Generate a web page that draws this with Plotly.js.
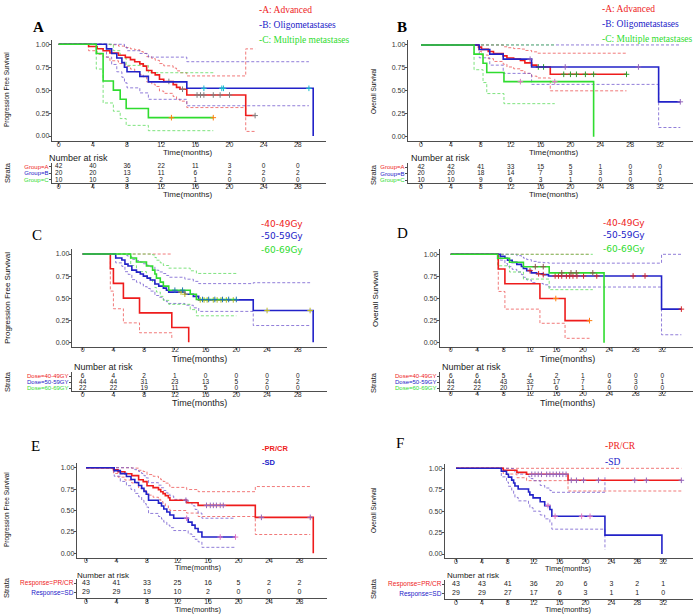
<!DOCTYPE html>
<html><head><meta charset="utf-8">
<script src="https://cdn.plot.ly/plotly-3.0.1.min.js"></script>
<style>html,body{margin:0;padding:0;background:#fff;}#chart{width:700px;height:614px;}</style>
</head><body><div id="chart"></div>
<script>
// ---------------- DATA ----------------
// Risk table times and counts
const riskTimes28 = [0,4,8,12,16,20,24,28];
const riskTimes32 = [0,4,8,12,16,20,24,28,32];
const riskA_grpA = [42,40,36,22,11,3,0,0];
const riskA_grpB = [20,20,13,11,6,2,2,2];
const riskA_grpC = [10,10,3,2,1,0,0,0];
const riskB_grpA = [42,42,41,33,15,5,1,0,0];
const riskB_grpB = [20,20,18,14,7,3,3,3,1];
const riskB_grpC = [10,10,9,6,3,1,0,0,0];
const riskC_40 = [6,4,2,1,0,0,0,0];
const riskC_50 = [44,44,31,23,13,5,2,2];
const riskC_60 = [22,22,19,11,5,0,0,0];
const riskD_40 = [6,6,5,4,2,1,0,0,0];
const riskD_50 = [44,44,43,32,17,7,4,3,1];
const riskD_60 = [22,22,20,17,6,1,0,0,0];
const riskE_pr = [43,41,33,25,16,5,2,2];
const riskE_sd = [29,29,19,10,2,0,0,0];
const riskF_pr = [43,43,41,36,20,6,3,2,1];
const riskF_sd = [29,29,27,17,6,3,1,1,0];

const groupLabels = ['Group=A','Group=B','Group=C'];
const doseLabels = ['Dose=40-49GY','Dose=50-59GY','Dose=60-69GY'];
const respLabels = ['Response=PR/CR','Response=SD'];
const groupLegend = ['-A: Advanced','-B: Oligometastases','-C: Multiple metastases'];
const doseLegend = ['-40-49Gy','-50-59Gy','-60-69Gy'];
const respLegend = ['-PR/CR','-SD'];
const yTickVals = [0,0.25,0.5,0.75,1];
const yTickText = ['0.00','0.25','0.50','0.75','1.00'];

// Panel A: PFS by group
const A_adv_t = [0,3.5,4.5,5.2,6.0,7.0,7.8,8.4,8.9,9.5,9.9,10.3,10.9,11.3,11.8,12.3,13.4,13.8,14.2,15.0,21.9];
const A_adv_s = [1,0.976,0.952,0.929,0.905,0.881,0.857,0.833,0.81,0.786,0.762,0.714,0.69,0.667,0.619,0.595,0.56,0.53,0.51,0.447,0.223];
const A_adv_up = [1,1,1,1,0.995,0.98,0.965,0.95,0.94,0.92,0.9,0.865,0.845,0.825,0.79,0.765,0.74,0.71,0.69,0.655,0.95];
const A_adv_lo = [1,0.93,0.89,0.86,0.82,0.79,0.76,0.73,0.7,0.67,0.645,0.59,0.565,0.54,0.49,0.465,0.43,0.4,0.38,0.31,0.05];
const A_adv_cens = [12.9,14.5,16.2,16.6,17.0,18.1,18.9,20.0,23.0];
const A_adv_end = 23.0;
const A_oli_t = [0,5.6,6.2,6.8,7.4,7.7,8.0,9.5,10.5,15.0,29.8];
const A_oli_s = [1,0.95,0.9,0.85,0.8,0.75,0.7,0.65,0.59,0.52,0];
const A_oli_up = [1,1,1,1,1,0.97,0.93,0.9,0.86,0.81,null];
const A_oli_lo = [1,0.86,0.78,0.7,0.64,0.58,0.525,0.47,0.4,0.33,null];
const A_oli_cens = [17.0,19.1,19.3,29.3];
const A_oli_end = 29.8;
const A_mul_t = [0,4.4,5.2,6.4,7.2,7.9,10.5];
const A_mul_s = [1,0.9,0.6,0.5,0.4,0.3,0.2];
const A_mul_up = [1,1,1,0.93,0.85,0.77,0.69];
const A_mul_lo = [1,0.73,0.36,0.27,0.19,0.116,0.058];
const A_mul_cens = [13.2,18.1];
const A_mul_end = 18.1;

// Panel B: OS by group
const B_adv_t = [0,7.7,8.1,9.0,9.7,11.0,11.5,12.4,13.3,13.9,14.8,15.5,17.3];
const B_adv_s = [1,0.976,0.952,0.929,0.905,0.881,0.857,0.845,0.83,0.805,0.78,0.76,0.68];
const B_adv_up = [1,1,1,1,1,0.98,0.97,0.96,0.955,0.94,0.925,0.91,0.91];
const B_adv_lo = [1,0.93,0.89,0.85,0.82,0.79,0.76,0.74,0.72,0.69,0.66,0.64,0.5];
const B_adv_cens = [15.7,16.4,19.1,20.0,20.8,22.0,23.1,27.5];
const B_adv_end = 27.5;
const B_oli_t = [0,7.8,9.2,11.0,14.8,31.8];
const B_oli_s = [1,0.95,0.9,0.845,0.76,0.38];
const B_oli_up = [1,1,1,1,1,1];
const B_oli_lo = [1,0.86,0.78,0.69,0.57,0.1];
const B_oli_cens = [14.6,19.3,29.1,34.7];
const B_oli_end = 34.7;
const B_mul_t = [0,7.1,8.3,8.8,11.1,23.1];
const B_mul_s = [1,0.9,0.8,0.7,0.6,0];
const B_mul_up = [1,1,1,1,1,null];
const B_mul_lo = [1,0.73,0.59,0.47,0.36,null];
const B_mul_cens = [13.3,17.9];
const B_mul_end = 23.1;

// Panel C: PFS by dose
const C_40_t = [0,3.6,4.0,5.3,7.4,11.6,13.8];
const C_40_s = [1,0.833,0.667,0.5,0.333,0.167,0];
const C_40_up = [1,1,1,1,1,1,null];
const C_40_lo = [1,0.58,0.38,0.22,0.108,0.028,null];
const C_40_cens = [];
const C_40_end = 13.8;
const C_50_t = [0,4.3,5.1,5.5,5.9,6.4,7.0,7.5,7.9,8.4,8.8,9.4,9.9,10.5,10.9,11.2,13.3,14.4,15.1,22.2,30.0];
const C_50_s = [1,0.955,0.932,0.886,0.864,0.818,0.795,0.773,0.75,0.727,0.705,0.66,0.636,0.614,0.59,0.568,0.545,0.52,0.48,0.36,0];
const C_50_up = [1,1,1,0.985,0.97,0.94,0.925,0.908,0.89,0.872,0.855,0.817,0.797,0.779,0.757,0.737,0.715,0.69,0.665,0.675,null];
const C_50_lo = [1,0.9,0.86,0.8,0.77,0.71,0.68,0.66,0.63,0.61,0.58,0.53,0.51,0.48,0.46,0.44,0.42,0.39,0.35,0.19,null];
const C_50_cens = [12.8,13.3,15.3,15.8,16.2,17.0,17.5,18.0,18.7,19.6,24.0,29.6];
const C_50_end = 30.0;
const C_60_t = [0,6.25,7.0,8.3,9.1,9.4,9.6,10.1,10.5,11.2,14.0,14.8];
const C_60_s = [1,0.955,0.909,0.864,0.818,0.773,0.727,0.682,0.636,0.59,0.545,0.485];
const C_60_up = [1,1,1,1,0.99,0.96,0.93,0.9,0.87,0.84,0.81,0.78];
const C_60_lo = [1,0.87,0.8,0.73,0.68,0.62,0.57,0.52,0.475,0.43,0.37,0.3];
const C_60_cens = [12.0,13.0,15.6,16.4,17.2,18.2,19.0,20.0];
const C_60_end = 20.0;

// Panel D: OS by dose
const D_40_t = [0,7.2,8.2,13.5,17.3];
const D_40_s = [1,0.833,0.667,0.5,0.25];
const D_40_up = [1,1,1,1,1];
const D_40_lo = [1,0.58,0.38,0.22,0.05];
const D_40_cens = [15.9,21.0];
const D_40_end = 21.0;
const D_50_t = [0,7.5,8.2,8.6,9.3,10.0,10.7,11.0,11.5,12.2,13.0,14.0,14.8,31.9];
const D_50_s = [1,0.977,0.955,0.932,0.909,0.886,0.862,0.84,0.815,0.79,0.78,0.77,0.755,0.38];
const D_50_up = [1,1,1,1,1,0.985,0.97,0.957,0.94,0.92,0.91,0.905,0.9,1];
const D_50_lo = [1,0.934,0.896,0.86,0.83,0.8,0.77,0.74,0.71,0.68,0.67,0.655,0.63,0.09];
const D_50_cens = [12.0,13.3,14.0,15.8,16.3,16.8,17.5,18.0,18.5,19.1,20.1,22.1,27.6,29.4,34.9];
const D_50_end = 34.9;
const D_60_t = [0,7.1,8.9,11.0,14.9,23.2];
const D_60_s = [1,0.955,0.91,0.86,0.79,0];
const D_60_up = [1,1,1,1,1,null];
const D_60_lo = [1,0.87,0.8,0.72,0.6,null];
const D_60_cens = [12.8,14.0,16.8,18.2,19.0,21.5];
const D_60_end = 23.2;

// Panel E: PFS by response
const E_pr_t = [0,3.6,4.2,5.1,6.0,6.9,7.5,8.0,8.8,9.5,9.8,10.1,10.4,10.8,11.0,13.2,14.7,22.2,29.8];
const E_pr_s = [1,0.977,0.953,0.93,0.907,0.86,0.837,0.79,0.767,0.744,0.72,0.697,0.674,0.65,0.62,0.59,0.56,0.42,0];
const E_pr_up = [1,1,1,1,0.995,0.97,0.955,0.92,0.9,0.88,0.86,0.84,0.82,0.8,0.77,0.745,0.72,0.78,null];
const E_pr_lo = [1,0.933,0.89,0.856,0.822,0.76,0.735,0.68,0.655,0.63,0.605,0.58,0.555,0.53,0.5,0.47,0.43,0.22,null];
const E_pr_cens = [13.1,15.8,16.3,16.7,17.1,17.6,18.0,23.0,29.4];
const E_pr_end = 29.8;
const E_sd_t = [0,3.7,4.5,5.3,5.9,6.4,6.9,7.3,7.6,7.9,8.2,9.5,9.9,10.2,10.6,11.0,11.5,13.4,13.9,14.3,14.7,15.2];
const E_sd_s = [1,0.966,0.931,0.897,0.862,0.828,0.793,0.759,0.724,0.69,0.62,0.586,0.552,0.517,0.483,0.448,0.41,0.365,0.33,0.29,0.25,0.19];
const E_sd_up = [1,1,1,1,0.997,0.977,0.955,0.932,0.906,0.88,0.825,0.796,0.766,0.734,0.704,0.67,0.63,0.59,0.555,0.513,0.47,0.41];
const E_sd_lo = [1,0.9,0.84,0.79,0.745,0.7,0.66,0.62,0.58,0.54,0.466,0.43,0.4,0.364,0.33,0.3,0.266,0.226,0.196,0.164,0.134,0.07];
const E_sd_cens = [13.2,17.6,19.6];
const E_sd_end = 19.6;

// Panel F: OS by response
const F_pr_t = [0,7.3,9.4,10.9,17.3];
const F_pr_s = [1,0.977,0.953,0.93,0.86];
const F_pr_up = [1,1,1,1,1];
const F_pr_lo = [1,0.933,0.89,0.856,0.735];
const F_pr_cens = [11.7,12.2,12.7,13.2,14.0,14.5,15.0,15.5,16.0,16.5,17.0,17.8,18.6,19.7,22.0,27.6,29.4,34.8];
const F_pr_end = 34.8;
const F_sd_t = [0,7.0,7.8,8.1,8.6,8.9,9.1,9.6,11.2,11.4,11.9,13.0,13.7,14.5,14.8,23.0,31.8];
const F_sd_s = [1,0.966,0.931,0.897,0.862,0.828,0.793,0.759,0.724,0.69,0.655,0.61,0.565,0.52,0.44,0.22,0];
const F_sd_up = [1,1,1,1,0.997,0.977,0.955,0.932,0.906,0.88,0.855,0.8,0.77,0.74,0.72,0.92,null];
const F_sd_lo = [1,0.9,0.84,0.79,0.745,0.7,0.66,0.62,0.58,0.54,0.5,0.455,0.41,0.37,0.29,0.05,null];
const F_sd_cens = [14.2,15.3,19.4,20.7];
const F_sd_end = 31.8;

// ---------------- STYLE ----------------
const RED = '#EE1C1C', BLUE = '#2222C8', GREEN = '#2FDC2F';
const CI = {};
CI[RED] = 'rgba(236,80,80,0.85)'; CI[BLUE] = 'rgba(110,85,205,0.85)'; CI[GREEN] = 'rgba(95,220,95,0.9)';
const SANS = 'Liberation Sans, Arial, sans-serif';
const SERIF = 'Liberation Serif, Times New Roman, serif';
const VERD = 'DejaVu Sans, Verdana, sans-serif';
const W = 700, H = 614;
const px = v => v / W, py = v => 1 - v / H;

const traces = [];
const layout = {width: W, height: H, margin: {l:0,r:0,t:0,b:0}, paper_bgcolor:'#fff', plot_bgcolor:'#fff',
  showlegend:false, hovermode:false, annotations: []};

function ref(p, n){ return n === 1 ? p : p + n; }
function key(p, n){ return n === 1 ? p + 'axis' : p + 'axis' + n; }

function curve(c, t, s, up, lo, cens, end, color){
  return {t, s, up, lo, cens, end, color};
}
function stepAt(t, s, x){ let v = s[0]; for (let i=0;i<t.length;i++){ if (t[i] <= x) v = s[i]; } return v; }

function addCurves(n, curves){
  const xr = ref('x', n), yr = ref('y', n);
  curves.forEach(c => {
    let last = -1; for (let i=0;i<c.t.length;i++){ if (c.up[i] !== null) last = i; }
    const firstNull = last + 1 < c.t.length ? c.t[last+1] : Infinity;
    let ciEnd = c.t[last];
    c.cens.forEach(v => { if (v < firstNull && v > ciEnd) ciEnd = v; });
    if (firstNull === Infinity) ciEnd = Math.max(ciEnd, c.end);
    [c.up, c.lo].forEach(arr => {
      const xs = c.t.slice(0, last+1).concat([ciEnd]);
      const ys = arr.slice(0, last+1).concat([arr[last]]);
      traces.push({type:'scatter', mode:'lines', x: xs, y: ys, xaxis: xr, yaxis: yr,
        line:{shape:'hv', color: CI[c.color], width: 0.9, dash:'3px,2px'}});
    });
  });
  curves.forEach(c => {
    traces.push({type:'scatter', mode:'lines', x: c.t.concat([c.end]), y: c.s.concat([c.s[c.s.length-1]]),
      xaxis: xr, yaxis: yr, line:{shape:'hv', color: c.color, width: 1.6}});
    if (c.cens.length) traces.push({type:'scatter', mode:'markers', x: c.cens, y: c.cens.map(v => stepAt(c.t, c.s, v)),
      xaxis: xr, yaxis: yr, marker:{symbol:'cross-thin-open', size:4, line:{color:c.color, width:1}}, cliponaxis:false});
  });
}

function axisBase(){
  return {showline:true, linecolor:'#222', linewidth:0.8, ticks:'outside', ticklen:2.5, tickcolor:'#222', tickwidth:0.8,
    showgrid:false, zeroline:false, fixedrange:true, tickfont:{family:SANS, size:7, color:'#333'}};
}

function ann(text, x, y, o){
  o = o || {};
  layout.annotations.push({text, x: px(x), y: py(y), xref:'paper', yref:'paper', showarrow:false,
    xanchor: o.xa || 'center', yanchor: o.ya || 'middle', textangle: o.rot || 0,
    font:{family: o.fam || SANS, size: o.size || 8, color: o.color || '#222'}});
}

function panel(p){
  const n1 = 2*p.i - 1, n2 = 2*p.i;
  layout[key('x', n1)] = Object.assign(axisBase(), {domain:[px(p.xdom[0]), px(p.xdom[1])], range:p.xr,
    tickvals:p.ticks, ticktext:p.ticks.map(String), anchor: ref('y', n1), ticklabelstandoff:-6});
  layout[key('y', n1)] = Object.assign(axisBase(), {domain:[py(p.ydom[1]), py(p.ydom[0])], range:p.yr,
    tickvals:yTickVals, ticktext:yTickText, anchor: ref('x', n1), ticklabelstandoff:-2});
  addCurves(n1, p.curves);
  const rows = p.rows;
  const rv = rows.map((r, k) => rows.length - k);
  layout[key('x', n2)] = Object.assign(axisBase(), {domain:[px(p.xdom[0]), px(p.xdom[1])], range:p.xr,
    tickvals:p.ticks, ticktext:p.ticks.map(String), anchor: ref('y', n2), ticklabelstandoff:-6});
  layout[key('y', n2)] = Object.assign(axisBase(), {domain:[py(p.rdom[1]), py(p.rdom[0])], range:p.rr,
    tickvals: rv, ticktext: rows.map(r => '<span style="color:' + r.color + '">' + r.label + '</span>'),
    anchor: ref('x', n2), ticklabelstandoff:-1, tickfont:{family:SANS, size:p.rowFont, color:'#333'}});
  rows.forEach((r, k) => {
    traces.push({type:'scatter', mode:'text', x: p.ticks, y: p.ticks.map(() => rv[k]), text: r.vals.map(String),
      xaxis: ref('x', n2), yaxis: ref('y', n2), textfont:{family:SANS, size:p.numFont, color:'#222'}, cliponaxis:false});
  });
  ann(p.letter, p.letterPos[0], p.letterPos[1], {fam:SERIF, size:15, color:'#000'});
  p.legend.forEach((txt, k) => ann(txt, p.legX, p.legY[k], {xa:'left', fam:p.legFam, size:p.legSize, color:p.curves[k].color}));
  ann(p.ytitle, p.ytPos[0], p.ytPos[1], {rot:-90, size:p.ytSize, color:'#111'});
  ann('Time(months)', p.timeX, p.timeY, {size:p.timeSize});
  ann('Time(months)', p.timeX, p.rtimeY, {size:p.timeSize});
  ann('Number at risk', p.narX, p.narY, {xa:'left', size:p.narSize || 9});
  ann('Strata', p.strataPos[0], p.strataPos[1], {rot:-90, size:7.5});
}

const t28 = riskTimes28, t32 = riskTimes32;

panel({i:1, letter:'<b>A</b>', letterPos:[38,27], xdom:[52,326], xr:[-0.785,31.3], ydom:[39.7,141], yr:[-0.0545,1.05], ticks:t28,
  curves:[curve(0,A_adv_t,A_adv_s,A_adv_up,A_adv_lo,A_adv_cens,A_adv_end,RED),
          curve(0,A_oli_t,A_oli_s,A_oli_up,A_oli_lo,A_oli_cens,A_oli_end,BLUE),
          curve(0,A_mul_t,A_mul_s,A_mul_up,A_mul_lo,A_mul_cens,A_mul_end,GREEN)],
  rows:[{label:groupLabels[0],vals:riskA_grpA,color:RED},{label:groupLabels[1],vals:riskA_grpB,color:BLUE},{label:groupLabels[2],vals:riskA_grpC,color:GREEN}],
  rdom:[162.7,183.3], rr:[0.5,3.6], rowFont:6, numFont:6.5,
  legend:groupLegend, legX:257, legY:[10,25,39.5], legFam:SERIF, legSize:9.5,
  ytitle:'Progression Free Survival', ytPos:[7,90], ytSize:6.5,
  timeX:187, timeY:152, rtimeY:195, timeSize:8, narX:47, narY:157.5, strataPos:[7,173]});

panel({i:2, letter:'<b>B</b>', letterPos:[402,27], xdom:[408,693], xr:[-1.74,36.4], ydom:[40,141], yr:[-0.047,1.054], ticks:t32,
  curves:[curve(0,B_adv_t,B_adv_s,B_adv_up,B_adv_lo,B_adv_cens,B_adv_end,RED),
          curve(0,B_oli_t,B_oli_s,B_oli_up,B_oli_lo,B_oli_cens,B_oli_end,BLUE),
          curve(0,B_mul_t,B_mul_s,B_mul_up,B_mul_lo,B_mul_cens,B_mul_end,GREEN)],
  rows:[{label:groupLabels[0],vals:riskB_grpA,color:RED},{label:groupLabels[1],vals:riskB_grpB,color:BLUE},{label:groupLabels[2],vals:riskB_grpC,color:GREEN}],
  rdom:[163,183], rr:[0.53,3.68], rowFont:6, numFont:6.5,
  legend:groupLegend, legX:600, legY:[9,24,39], legFam:SERIF, legSize:9.5,
  ytitle:'Overall Survival', ytPos:[373,91], ytSize:6.5,
  timeX:553, timeY:152, rtimeY:195, timeSize:8, narX:409, narY:158, strataPos:[373,174]});

panel({i:3, letter:'C', letterPos:[37,235], xdom:[72,327], xr:[-1.39,31.8], ydom:[249,346.7], yr:[-0.05,1.057], ticks:t28,
  curves:[curve(0,C_40_t,C_40_s,C_40_up,C_40_lo,C_40_cens,C_40_end,RED),
          curve(0,C_50_t,C_50_s,C_50_up,C_50_lo,C_50_cens,C_50_end,BLUE),
          curve(0,C_60_t,C_60_s,C_60_up,C_60_lo,C_60_cens,C_60_end,GREEN)],
  rows:[{label:doseLabels[0],vals:riskC_40,color:RED},{label:doseLabels[1],vals:riskC_50,color:BLUE},{label:doseLabels[2],vals:riskC_60,color:GREEN}],
  rdom:[372,391], rr:[0.56,3.65], rowFont:6, numFont:6.5,
  legend:doseLegend, legX:259, legY:[224,236,250], legFam:VERD, legSize:9,
  ytitle:'Progression Free Survival', ytPos:[7,298], ytSize:8,
  timeX:199, timeY:358.5, rtimeY:403, timeSize:9, narX:72, narY:366.5, strataPos:[7,382]});

panel({i:4, letter:'D', letterPos:[402,233], xdom:[440,693], xr:[-1.62,36.66], ydom:[249,346.7], yr:[-0.045,1.06], ticks:t32,
  curves:[curve(0,D_40_t,D_40_s,D_40_up,D_40_lo,D_40_cens,D_40_end,RED),
          curve(0,D_50_t,D_50_s,D_50_up,D_50_lo,D_50_cens,D_50_end,BLUE),
          curve(0,D_60_t,D_60_s,D_60_up,D_60_lo,D_60_cens,D_60_end,GREEN)],
  rows:[{label:doseLabels[0],vals:riskD_40,color:RED},{label:doseLabels[1],vals:riskD_50,color:BLUE},{label:doseLabels[2],vals:riskD_60,color:GREEN}],
  rdom:[372,390.7], rr:[0.55,3.67], rowFont:6, numFont:6.5,
  legend:doseLegend, legX:601, legY:[223,235,248.5], legFam:VERD, legSize:9,
  ytitle:'Overall Survival', ytPos:[375,299], ytSize:8,
  timeX:567, timeY:358.5, rtimeY:403.2, timeSize:9, narX:440, narY:366.5, strataPos:[373,382]});

panel({i:5, letter:'E', letterPos:[35,446], xdom:[77,327], xr:[-1.18,31.6], ydom:[463,557.7], yr:[-0.051,1.055], ticks:t28,
  curves:[curve(0,E_pr_t,E_pr_s,E_pr_up,E_pr_lo,E_pr_cens,E_pr_end,RED),
          curve(0,E_sd_t,E_sd_s,E_sd_up,E_sd_lo,E_sd_cens,E_sd_end,BLUE)],
  rows:[{label:respLabels[0],vals:riskE_pr,color:RED},{label:respLabels[1],vals:riskE_sd,color:BLUE}],
  rdom:[578.5,598.3], rr:[0.4,2.5], rowFont:6.5, numFont:7,
  legend:respLegend.map(s => '<b>' + s + '</b>'), legX:260, legY:[448,462], legFam:SANS, legSize:7.5,
  ytitle:'Progression Free Survival', ytPos:[7,510], ytSize:6.5,
  timeX:198, timeY:567.8, rtimeY:609, timeSize:7.5, narX:75, narY:575.2, narSize:8, strataPos:[6,588]});

panel({i:6, letter:'F', letterPos:[400,443], xdom:[445,693], xr:[-1.7,36.6], ydom:[463.5,558.3], yr:[-0.05,1.056], ticks:t32,
  curves:[curve(0,F_pr_t,F_pr_s,F_pr_up,F_pr_lo,F_pr_cens,F_pr_end,RED),
          curve(0,F_sd_t,F_sd_s,F_sd_up,F_sd_lo,F_sd_cens,F_sd_end,BLUE)],
  rows:[{label:respLabels[0],vals:riskF_pr,color:RED},{label:respLabels[1],vals:riskF_sd,color:BLUE}],
  rdom:[579.5,599], rr:[0.39,2.5], rowFont:6.5, numFont:7,
  legend:respLegend, legX:603, legY:[446,462], legFam:SERIF, legSize:9.5,
  ytitle:'Overall Survival', ytPos:[373,510], ytSize:6.5,
  timeX:568, timeY:568.3, rtimeY:609.5, timeSize:7.5, narX:445, narY:575.6, narSize:8, strataPos:[373,588]});

Plotly.newPlot('chart', traces, layout, {staticPlot:true, displayModeBar:false});
</script></body></html>
